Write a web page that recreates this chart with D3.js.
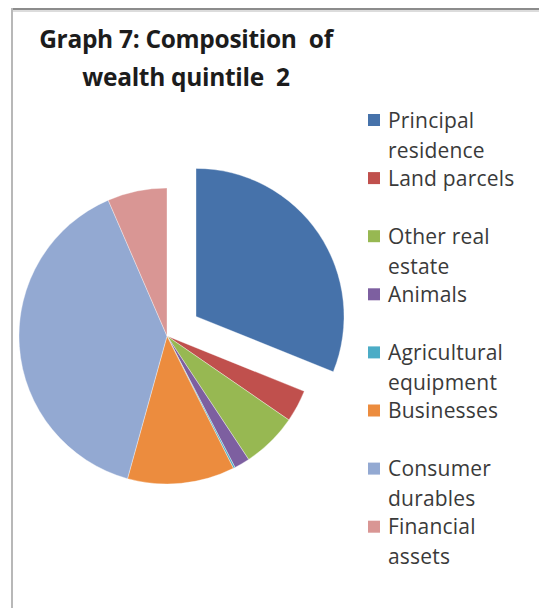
<!DOCTYPE html>
<html>
<head>
<meta charset="utf-8">
<script src="https://cdn.jsdelivr.net/npm/d3@7"></script>
<style>
  html, body { margin: 0; padding: 0; background: #fff; }
  svg { display: block; }
</style>
</head>
<body>
<svg id="chart" width="539" height="608"></svg>
<script>
// Wealth composition, quintile 2 (share of total, %)
const categories = [
  "Principal residence",
  "Land parcels",
  "Other real estate",
  "Animals",
  "Agricultural equipment",
  "Businesses",
  "Consumer durables",
  "Financial assets"
];
const shares = [31.1, 3.5, 6.1, 1.7, 0.2, 11.7, 39.2, 6.5];
const legendLines = [
  ["Principal", "residence"],
  ["Land parcels"],
  ["Other real", "estate"],
  ["Animals"],
  ["Agricultural", "equipment"],
  ["Businesses"],
  ["Consumer", "durables"],
  ["Financial", "assets"]
];
const colors = ["#4672AA", "#C0504D", "#97B852", "#7D5FA0", "#4BACC6", "#EC8C3E", "#93A9D2", "#D99694"];
const titleLines = ["Graph 7: Composition  of", "wealth quintile  2"];

const svg = d3.select("#chart");

// frame
svg.append("line").attr("x1", 12).attr("x2", 539).attr("y1", 9).attr("y2", 9)
  .attr("stroke", "#8c8c8c").attr("stroke-width", 2);
svg.append("line").attr("x1", 12).attr("x2", 539).attr("y1", 11).attr("y2", 11)
  .attr("stroke", "#dcdcdc").attr("stroke-width", 2);
svg.append("line").attr("x1", 12).attr("x2", 12).attr("y1", 8).attr("y2", 608)
  .attr("stroke", "#b8b8b8").attr("stroke-width", 2);

// title
svg.append("g").selectAll("text").data(titleLines).join("text")
  .attr("x", 186).attr("y", (d, i) => 48 + i * 38)
  .attr("text-anchor", "middle")
  .attr("xml:space", "preserve")
  .style("white-space", "pre")
  .attr("font-family", "'Open Sans', sans-serif")
  .attr("font-weight", "bold").attr("font-size", 24.5)
  .attr("letter-spacing", -0.3)
  .attr("fill", "#1c1c1c")
  .text(d => d);

// pie
const cx = 167, cy = 336, R = 148, explode = 35;
const color = d3.scaleOrdinal().domain(categories).range(colors);
const pie = d3.pie().sort(null).value(d => d.v);
const arc = d3.arc().innerRadius(0).outerRadius(R);
const data = pie(categories.map((c, i) => ({ c, v: shares[i] })));

svg.append("g").attr("transform", `translate(${cx},${cy})`)
  .selectAll("path").data(data).join("path")
  .attr("transform", d => {
    if (d.index !== 0) return null;
    const m = (d.startAngle + d.endAngle) / 2;
    return `translate(${explode * Math.sin(m)},${-explode * Math.cos(m)})`;
  })
  .attr("d", arc)
  .attr("fill", d => color(d.data.c))
  .attr("stroke", "rgba(255,255,255,0.5)")
  .attr("stroke-width", 0.7);

// legend
const leg = svg.append("g");
const entry = leg.selectAll("g").data(categories).join("g")
  .attr("transform", (d, i) => `translate(368,${120 + i * 58.1})`);
entry.append("rect").attr("x", 0).attr("y", -6).attr("width", 12).attr("height", 12)
  .attr("fill", d => color(d));
entry.selectAll("text").data((d, i) => legendLines[i]).join("text")
  .attr("x", 20).attr("y", (d, j) => j * 30)
  .attr("dy", "0.36em")
  .attr("font-family", "'Open Sans', sans-serif")
  .attr("font-size", 21)
  .attr("letter-spacing", 0.2)
  .attr("fill", "#3a3a3a")
  .text(d => d);
</script>
</body>
</html>
